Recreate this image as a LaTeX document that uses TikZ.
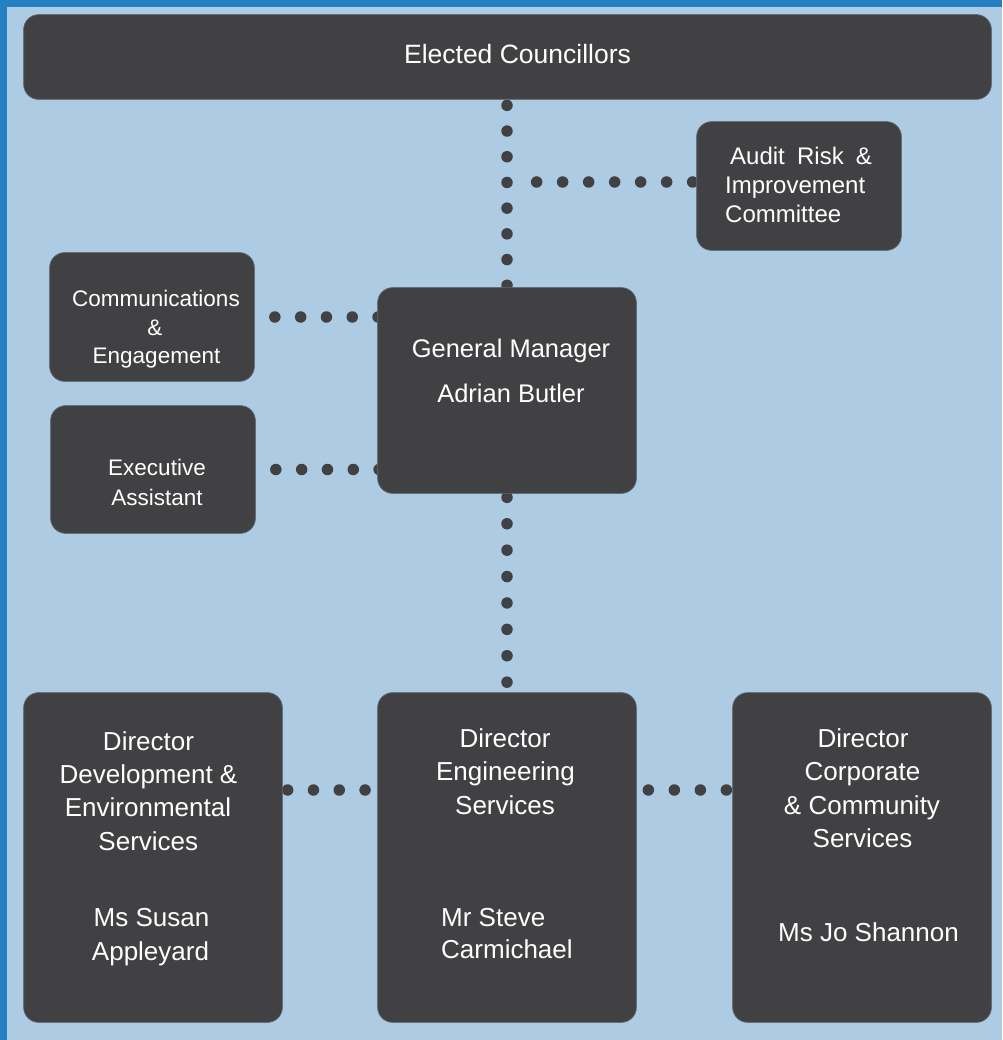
\documentclass[tikz,border=0pt]{standalone}
\usepackage{fontspec}
\setmainfont{Liberation Sans}
\definecolor{bgblue}{HTML}{ADCCE4}
\definecolor{bandblue}{HTML}{2580C3}
\definecolor{boxgray}{HTML}{414042}
\definecolor{boxedge}{HTML}{5F6873}
\begin{document}
\begin{tikzpicture}[x=1pt,y=-1pt,
  orgbox/.style={rectangle, rounded corners=15pt, fill=boxgray, draw=boxedge, line width=0.7pt, inner sep=0pt},
  dotline/.style={draw=boxgray, line width=11.5pt, line cap=round, dash pattern=on 0pt off #1},
  dotline/.default=25.8pt,
  txt/.style={text=white, anchor=base, inner sep=0pt, font=\fontsize{#1}{#1}\selectfont},
  txtw/.style={text=white, anchor=base west, inner sep=0pt, font=\fontsize{#1}{#1}\selectfont}
]
\useasboundingbox (0,0) rectangle (1002,1040);
\fill[bgblue] (0,0) rectangle (1002,1040);
\fill[bandblue] (0,0) rectangle (1002,7);
\fill[bandblue] (0,0) rectangle (7,1040);

\path
  node[orgbox, minimum width=967pt, minimum height=84pt] (ec) at (507.5,57) {}
  node[orgbox, minimum width=204pt, minimum height=128pt] (aud) at (799,186) {}
  node[orgbox, minimum width=204pt, minimum height=128pt] (com) at (152,317) {}
  node[orgbox, minimum width=204pt, minimum height=127pt] (exa) at (153,469.5) {}
  node[orgbox, minimum width=258pt, minimum height=205pt] (gm) at (507,390.5) {}
  node[orgbox, minimum width=258pt, minimum height=329pt] (dde) at (153,857.5) {}
  node[orgbox, minimum width=258pt, minimum height=329pt] (den) at (507,857.5) {}
  node[orgbox, minimum width=258pt, minimum height=329pt] (dcc) at (862,857.5) {};

\coordinate (j1) at (507,182);
\coordinate (j2) at (507,790);

% connectors
\draw[dotline=25.7pt, shorten <=6pt] (gm.north |- ec.south) -- (gm.north);
\draw[dotline=26pt, shorten <=4pt, shorten >=28pt] (aud.west |- j1) -- (j1);
\draw[dotline, shorten <=20.5pt, shorten >=-4pt] (com.east) -- (gm.west |- com.east);
\draw[dotline, shorten <=20.5pt, shorten >=-4pt] (exa.east) -- (gm.west |- exa.east);
\draw[dotline=26.4pt, shorten <=4pt] (gm.south) -- (den.north);
\draw[dotline, shorten <=5.3pt] (dde.east |- j2) -- (den.west |- j2);
\draw[dotline=26pt, shorten <=12pt] (den.east |- j2) -- (dcc.west |- j2);

% redraw boxes on top of the connectors
\foreach \b in {ec,aud,com,exa,gm,dde,den,dcc}{
  \draw[fill=boxgray, draw=boxedge, line width=0.7pt, rounded corners=15pt] (\b.north west) rectangle (\b.south east);
}

% texts
\node[txt=26.5] (t-ec) at (517.5,63.5) {Elected Councillors};

\node[txtw=24] (t-au1) at (730,164.3) {Audit\hspace{12.2pt}Risk\hspace{12.2pt}\&};
\node[txtw=24] (t-au2) at (725,193.3) {Improvement};
\node[txtw=24] (t-au3) at (725,223) {Committee};

\node[txt=22.5] (t-co1) at (156,306) {Communications};
\node[txt=22.5] (t-co2) at (155,335) {\&};
\node[txt=22.5] (t-co3) at (156.5,363.3) {Engagement};

\node[txt=22.5] (t-ex1) at (157,475.5) {Executive};
\node[txt=22.5] (t-ex2) at (157,505) {Assistant};

\node[txt=25.5] (t-gm1) at (511,357.7) {General Manager};
\node[txt=25.5] (t-gm2) at (511,402.7) {Adrian Butler};

\node[txt=26] (t-d11) at (148.5,750.7) {Director};
\node[txt=26] (t-d12) at (148.5,783.3) {Development \&};
\node[txt=26] (t-d13) at (148,816.7) {Environmental};
\node[txt=26] (t-d14) at (148.3,850) {Services};
\node[txt=26] (t-d15) at (151.5,926.7) {Ms Susan};
\node[txt=26] (t-d16) at (150.5,960) {Appleyard};

\node[txt=26] (t-d21) at (505,747.5) {Director};
\node[txt=26] (t-d22) at (505.5,780.8) {Engineering};
\node[txt=26] (t-d23) at (505,814) {Services};
\node[txtw=26] (t-d24) at (441,926) {Mr Steve};
\node[txtw=26] (t-d25) at (441,958) {Carmichael};

\node[txt=26] (t-d31) at (863,747.5) {Director};
\node[txt=26] (t-d32) at (862.5,780.8) {Corporate};
\node[txt=26] (t-d33) at (862,814) {\& Community};
\node[txt=26] (t-d34) at (862.5,847.5) {Services};
\node[txt=26] (t-d35) at (868.5,941) {Ms Jo Shannon};
\end{tikzpicture}
\end{document}
